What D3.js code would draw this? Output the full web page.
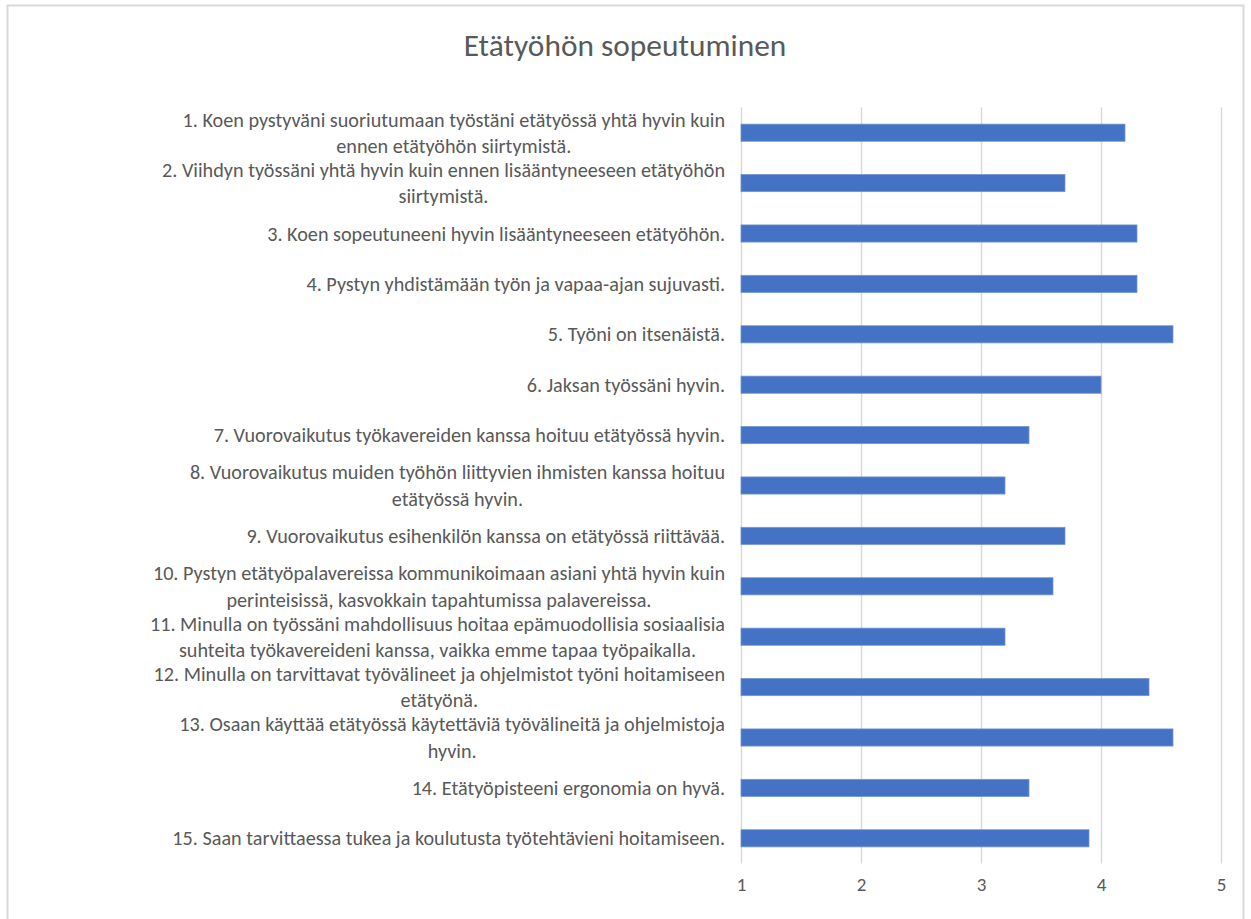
<!DOCTYPE html>
<html lang="fi">
<head>
<meta charset="utf-8">
<script src="https://cdn.jsdelivr.net/npm/d3@7/dist/d3.min.js"></script>
<style>
  html, body { margin: 0; padding: 0; background: #ffffff; }
  svg { display: block; }
  text { font-family: Carlito, Calibri, Lato, "Open Sans", sans-serif; fill: #595959; }
</style>
</head>
<body>
<svg id="chart" width="1251" height="919"></svg>
<script>
// Survey statements (each entry is the list of wrapped lines shown on the axis)
const categories = [
  ["1. Koen pystyväni suoriutumaan työstäni etätyössä yhtä hyvin kuin", "ennen etätyöhön siirtymistä."],
  ["2. Viihdyn työssäni yhtä hyvin kuin ennen lisääntyneeseen etätyöhön", "siirtymistä."],
  ["3. Koen sopeutuneeni hyvin lisääntyneeseen etätyöhön."],
  ["4. Pystyn yhdistämään työn ja vapaa-ajan sujuvasti."],
  ["5. Työni on itsenäistä."],
  ["6. Jaksan työssäni hyvin."],
  ["7. Vuorovaikutus työkavereiden kanssa hoituu etätyössä hyvin."],
  ["8. Vuorovaikutus muiden työhön liittyvien ihmisten kanssa hoituu", "etätyössä hyvin."],
  ["9. Vuorovaikutus esihenkilön kanssa on etätyössä riittävää."],
  ["10. Pystyn etätyöpalavereissa kommunikoimaan asiani yhtä hyvin kuin", "perinteisissä, kasvokkain tapahtumissa palavereissa."],
  ["11. Minulla on työssäni mahdollisuus hoitaa epämuodollisia sosiaalisia", "suhteita työkavereideni kanssa, vaikka emme tapaa työpaikalla."],
  ["12. Minulla on tarvittavat työvälineet ja ohjelmistot työni hoitamiseen", "etätyönä."],
  ["13. Osaan käyttää etätyössä käytettäviä työvälineitä ja ohjelmistoja", "hyvin."],
  ["14. Etätyöpisteeni ergonomia on hyvä."],
  ["15. Saan tarvittaessa tukea ja koulutusta työtehtävieni hoitamiseen."]
];

// Mean score per statement (scale 1–5)
const values = [4.2, 3.7, 4.3, 4.3, 4.6, 4.0, 3.4, 3.2, 3.7, 3.6, 3.2, 4.4, 4.6, 3.4, 3.9];

// Value axis ticks
const ticks = [1, 2, 3, 4, 5];

const title = "Etätyöhön sopeutuminen";

const svg = d3.select("#chart");

// Outer chart frame
svg.append("rect")
  .attr("x", 7.5).attr("y", 5.5)
  .attr("width", 1236).attr("height", 930)
  .attr("fill", "#ffffff")
  .attr("stroke", "#d9d9d9")
  .attr("stroke-width", 2);

// Title
svg.append("text")
  .attr("x", 625).attr("y", 56)
  .attr("text-anchor", "middle")
  .style("font-size", "31.4px")
  .text(title);

const plot = { left: 741, right: 1221, top: 107.5, bottom: 863.5 };

const x = d3.scaleLinear().domain([1, 5]).range([plot.left, plot.right]);
const y = d3.scaleBand()
  .domain(d3.range(categories.length))
  .range([plot.top, plot.bottom])
  .paddingInner(0.66)
  .paddingOuter(0.33);

// Vertical gridlines
const grid = svg.append("g")
  .attr("transform", `translate(0,${plot.bottom})`)
  .call(d3.axisBottom(x).tickValues(ticks).tickSize(-(plot.bottom - plot.top)).tickFormat(""));
grid.select(".domain").remove();
grid.selectAll("line").attr("stroke", "#d9d9d9").attr("stroke-width", 1.5);

// Tick labels
const xAxis = svg.append("g")
  .attr("transform", `translate(0,${plot.bottom})`)
  .call(d3.axisBottom(x).tickValues(ticks).tickSize(0).tickPadding(14).tickFormat(d3.format("d")));
xAxis.select(".domain").remove();
xAxis.selectAll("text")
  .style("font-size", "19px")
  .style("font-family", "Carlito, Calibri, Lato, sans-serif")
  .attr("fill", "#595959");

// Bars
svg.append("g").selectAll("rect")
  .data(values)
  .join("rect")
  .attr("x", x(1))
  .attr("y", (d, i) => y(i))
  .attr("width", d => x(d) - x(1))
  .attr("height", y.bandwidth())
  .attr("fill", "#4472C4")
  .attr("stroke", "#7396d4")
  .attr("stroke-width", 0.8);

// Category labels: lines centred on each other, block right-aligned beside the axis
const labelRight = 725;
const lineHeight = 26.5;
const labels = svg.append("g").style("font-size", "20.2px");
categories.forEach((lines, i) => {
  const cy = y(i) + y.bandwidth() / 2;
  const g = labels.append("g");
  const texts = g.selectAll("text")
    .data(lines)
    .join("text")
    .attr("text-anchor", "middle")
    .attr("dy", "0.35em")
    .attr("y", (d, k) => cy + (k - (lines.length - 1) / 2) * lineHeight)
    .text(d => d);
  const maxW = d3.max(texts.nodes(), n => n.getComputedTextLength());
  texts.attr("x", labelRight - maxW / 2);
});
</script>
</body>
</html>
